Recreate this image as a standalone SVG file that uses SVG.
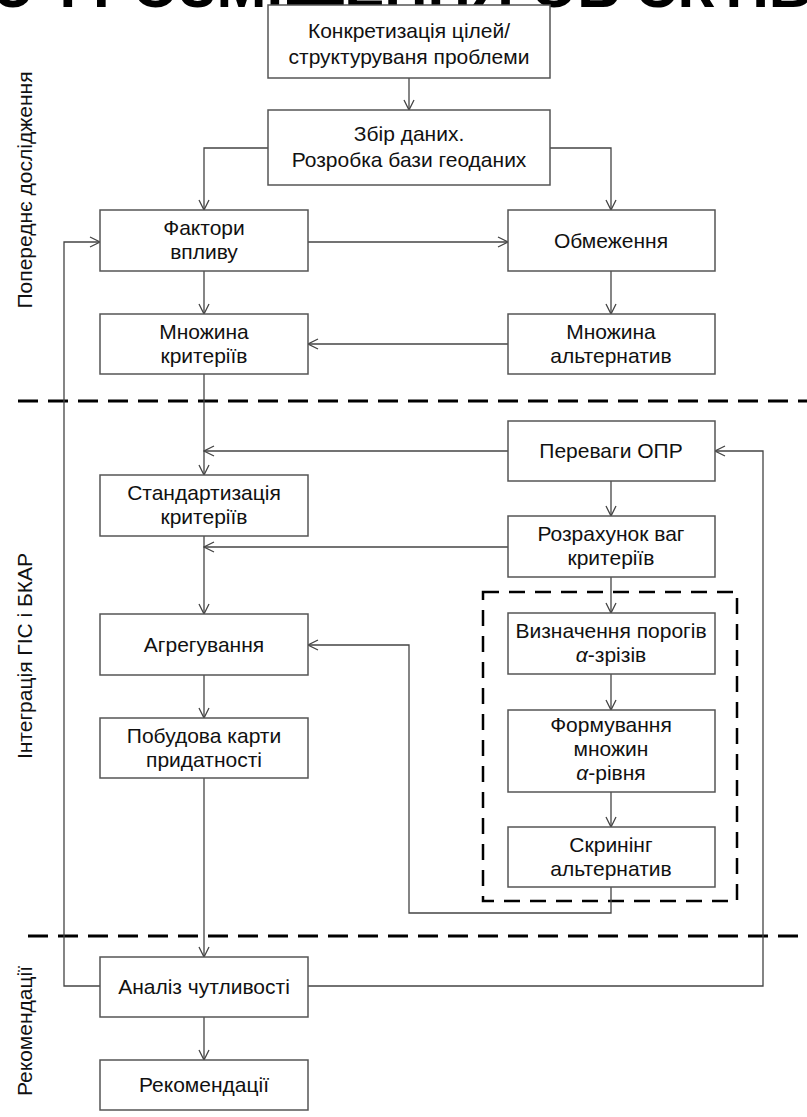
<svg xmlns="http://www.w3.org/2000/svg" width="807" height="1117" viewBox="0 0 807 1117">
<defs>
<marker id="ah" viewBox="0 0 12 12" refX="11" refY="6" markerWidth="12" markerHeight="12" markerUnits="userSpaceOnUse" orient="auto">
<path d="M1,1 L11,6 L1,11" fill="none" stroke="#444" stroke-width="1.3"/>
</marker>
<style>
.box{fill:#fff;stroke:#555;stroke-width:1.5}
.t{font-family:"Liberation Sans",Arial,sans-serif;font-size:21px;fill:#111;text-anchor:middle}
.lbl{font-family:"Liberation Sans",Arial,sans-serif;font-size:21px;fill:#111;text-anchor:middle}
.c{fill:none;stroke:#444;stroke-width:1.3}
.a{marker-end:url(#ah)}
.sec{fill:none;stroke:#000;stroke-width:3;stroke-dasharray:20 10}
.grp{fill:none;stroke:#000;stroke-width:2.5;stroke-dasharray:16 10}
.head{font-family:"Liberation Sans",Arial,sans-serif;font-size:60px;font-weight:bold;fill:#000}
</style>
</defs>
<rect width="807" height="1117" fill="#fff"/>
<text class="head" x="-27" y="7">ЮЧ РОЗМІЩЕННЯ ОБ'ЄКТІВ</text>

<g id="sections">
<line class="sec" x1="18" y1="401" x2="807" y2="401"/>
<line class="sec" x1="28" y1="936" x2="807" y2="936"/>
<rect class="grp" x="483" y="592" width="254" height="309"/>
<text class="lbl" transform="translate(32,190) rotate(-90)">Попереднє дослідження</text>
<text class="lbl" transform="translate(32,656) rotate(-90)">Інтеграція ГІС і БКАР</text>
<text class="lbl" transform="translate(32,1031) rotate(-90)">Рекомендації</text>
</g>

<g id="connectors">
<path class="c a" d="M409,78 V110"/>
<path class="c a" d="M268,148 H204 V210"/>
<path class="c a" d="M550,148 H611 V210"/>
<path class="c a" d="M308,242 H508"/>
<path class="c a" d="M204,271 V314"/>
<path class="c a" d="M611,271 V314"/>
<path class="c a" d="M508,344 H308"/>
<path class="c a" d="M204,374 V475"/>
<path class="c a" d="M508,451 H204"/>
<path class="c a" d="M611,481 V516"/>
<path class="c a" d="M204,536 V614"/>
<path class="c a" d="M508,547 H204"/>
<path class="c a" d="M611,577 V613"/>
<path class="c a" d="M611,674 V710"/>
<path class="c a" d="M611,792 V827"/>
<path class="c a" d="M611,887 V913 H409 V645 H308"/>
<path class="c a" d="M204,675 V718"/>
<path class="c a" d="M204,778 V957"/>
<path class="c a" d="M100,986 H64 V242 H100"/>
<path class="c a" d="M308,986 H763 V451 H715"/>
<path class="c a" d="M204,1017 V1060"/>
</g>

<g id="n1"><rect class="box" x="268" y="5" width="282" height="73"/>
<text class="t" x="409" y="38">Конкретизація цілей/</text>
<text class="t" x="409" y="64">структуруваня проблеми</text></g>

<g id="n2"><rect class="box" x="268" y="110" width="282" height="75"/>
<text class="t" x="409" y="141">Збір даних.</text>
<text class="t" x="409" y="167">Розробка бази геоданих</text></g>

<g id="n3"><rect class="box" x="100" y="210" width="208" height="61"/>
<text class="t" x="204" y="235">Фактори</text>
<text class="t" x="204" y="259">впливу</text></g>

<g id="n4"><rect class="box" x="508" y="210" width="207" height="61"/>
<text class="t" x="611" y="248">Обмеження</text></g>

<g id="n5"><rect class="box" x="100" y="314" width="208" height="60"/>
<text class="t" x="204" y="339">Множина</text>
<text class="t" x="204" y="363">критеріїв</text></g>

<g id="n6"><rect class="box" x="508" y="314" width="207" height="60"/>
<text class="t" x="611" y="339">Множина</text>
<text class="t" x="611" y="363">альтернатив</text></g>

<g id="n7"><rect class="box" x="508" y="421" width="207" height="60"/>
<text class="t" x="611" y="458">Переваги ОПР</text></g>

<g id="n8"><rect class="box" x="100" y="475" width="208" height="61"/>
<text class="t" x="204" y="500">Стандартизація</text>
<text class="t" x="204" y="524">критеріїв</text></g>

<g id="n9"><rect class="box" x="508" y="516" width="207" height="61"/>
<text class="t" x="611" y="541">Розрахунок ваг</text>
<text class="t" x="611" y="565">критеріїв</text></g>

<g id="n10"><rect class="box" x="100" y="614" width="208" height="61"/>
<text class="t" x="204" y="652">Агрегування</text></g>

<g id="n11"><rect class="box" x="508" y="613" width="207" height="61"/>
<text class="t" x="611" y="638">Визначення порогів</text>
<text class="t" x="611" y="662"><tspan font-style="italic">α</tspan>-зрізів</text></g>

<g id="n12"><rect class="box" x="100" y="718" width="208" height="60"/>
<text class="t" x="204" y="743">Побудова карти</text>
<text class="t" x="204" y="767">придатності</text></g>

<g id="n13"><rect class="box" x="508" y="710" width="207" height="82"/>
<text class="t" x="611" y="732">Формування</text>
<text class="t" x="611" y="756">множин</text>
<text class="t" x="611" y="780"><tspan font-style="italic">α</tspan>-рівня</text></g>

<g id="n14"><rect class="box" x="508" y="827" width="207" height="60"/>
<text class="t" x="611" y="852">Скринінг</text>
<text class="t" x="611" y="876">альтернатив</text></g>

<g id="n15"><rect class="box" x="100" y="957" width="208" height="60"/>
<text class="t" x="204" y="994">Аналіз чутливості</text></g>

<g id="n16"><rect class="box" x="100" y="1060" width="208" height="50"/>
<text class="t" x="204" y="1092">Рекомендації</text></g>
</svg>
